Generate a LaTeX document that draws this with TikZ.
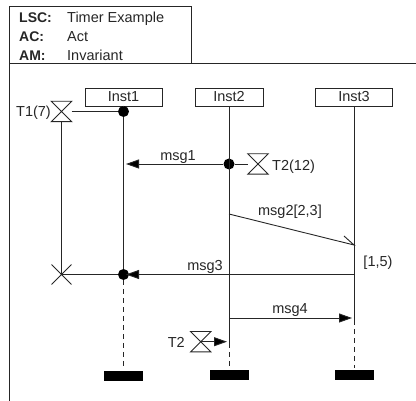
\documentclass[tikz,border=0pt]{standalone}
\usepackage{fontspec}
\setmainfont{Liberation Sans}
\usetikzlibrary{arrows.meta,shapes.misc}
\tikzset{
  x=1pt,y=-1pt,
  every node/.style={font=\fontsize{14.5}{16}\selectfont,text=black!85},
  thinline/.style={line width=0.9pt,draw=black!85},
  instbox/.style={draw=black!85,line width=0.9pt,minimum width=#1,minimum height=18pt,inner sep=0pt},
  lifeline/.style={thinline},
  lifedash/.style={thinline,dash pattern=on 5pt off 4pt},
  msgarrow/.style={thinline,-{Triangle[length=13pt,width=9pt,fill=black]}},
  plainmsg/.style={thinline},
  evdot/.style={circle,fill=black,inner sep=0pt,minimum size=11pt},
  endbar/.style={fill=black,inner sep=0pt,minimum width=39pt,minimum height=10pt},
  timerbox/.style={inner sep=0pt,minimum width=20pt,minimum height=20pt},
  timerend/.style={cross out,draw=black!85,line width=0.9pt,inner sep=0pt,minimum size=19pt},
  hdr/.style={anchor=base west,inner sep=0pt},
  hdrb/.style={anchor=base west,inner sep=0pt,font=\fontsize{14}{16}\selectfont\bfseries},
  lbl/.style={inner sep=0pt},
}
\newcommand{\hourglass}[1]{\draw[thinline] (#1.north west) -- (#1.south east) -- (#1.south west) -- (#1.north east) -- cycle;}
\begin{document}
\begin{tikzpicture}
\useasboundingbox (0,0) rectangle (416,401);
% frame
\coordinate (fbl) at (9,401);
\coordinate (ftl) at (9,6);
\coordinate (ftr) at (191,6);
\coordinate (hl) at (9,63);
\coordinate (hm) at (191,63);
\coordinate (hr) at (416,63);
\draw[thinline] (fbl) -- (ftl) -- (ftr) -- (hm);
\draw[thinline] (hl) -- (hr);
% header text
\node[hdrb] (h1) at (19,23) {LSC:};
\node[hdrb] (h2) at (19,42) {AC:};
\node[hdrb] (h3) at (19,61) {AM:};
\node[hdr] (v1) at (67,23) {Timer Example};
\node[hdr] (v2) at (67,42) {Act};
\node[hdr] (v3) at (67,61) {Invariant};
% instances
\node[instbox=77pt] (i1) at (123.5,97) {\raisebox{-1pt}{Inst1}};
\node[instbox=68pt] (i2) at (229,97) {\raisebox{-1pt}{Inst2}};
\node[instbox=77pt] (i3) at (354,97) {\raisebox{-1pt}{Inst3}};
% ends
\node[endbar] (b1) at (123.5,376) {};
\node[endbar] (b2) at (229,375) {};
\node[endbar] (b3) at (354,375) {};
% events
\node[evdot] (d1) at (123.5,111.5) {};
\node[evdot] (d2) at (229,164) {};
\node[evdot] (d3) at (123.5,274.5) {};
\coordinate (l1e) at (123.5,280);
\coordinate (l1s) at (123.5,368);
\coordinate (l2e) at (229,343);
\coordinate (l2s) at (229,368);
\coordinate (l3e) at (354,320);
\coordinate (l3s) at (354,368);
% lifelines
\draw[lifeline] (i1.south) -- (d1);
\draw[lifeline] (d1) -- (d3);
\draw[lifedash] (l1e) -- (l1s);
\draw[lifeline] (i2.south) -- (l2e);
\draw[lifedash] (l2e) -- (l2s);
\draw[lifeline] (i3.south) -- (l3e);
\draw[lifedash] (l3e) -- (l3s);
% timers
\node[timerbox] (t1) at (61.5,111.5) {};
\hourglass{t1}
\node[timerend] (x1) at (61.5,274.5) {};
\draw[thinline] (t1.east) -- (d1);
\draw[thinline] (t1.south) -- (x1.center);
\node[lbl,anchor=east] (t1l) at (51,113) {T1(7)};
\node[timerbox] (t2) at (258,164) {};
\hourglass{t2}
\draw[thinline] (d2) -- (t2.west);
\node[lbl,anchor=west] (t2l) at (272,166.5) {T2(12)};
\node[timerbox] (t3) at (200.7,341.7) {};
\hourglass{t3}
\coordinate (t3e) at (227,341.7);
\draw[msgarrow] (t3.center) -- (t3e);
\node[lbl,anchor=east] (t3l) at (185,342.5) {T2};
% messages
\coordinate (m1e) at (126,164);
\draw[msgarrow] (d2) -- (m1e);
\node[lbl] (m1l) at (178,157) {msg1};
\coordinate (m2s) at (229,214);
\coordinate (m2e) at (354,245);
\coordinate (m2b) at (344,236);
\draw[plainmsg] (m2s) -- (m2e) -- (m2b);
\node[lbl] (m2l) at (290,212) {msg2[2,3]};
\coordinate (m3s) at (354,274.5);
\coordinate (m3e) at (126,274.5);
\draw[msgarrow] (m3s) -- (m3e);
\draw[thinline] (d3) -- (x1.center);
\node[lbl] (m3l) at (205,267) {msg3};
\coordinate (m4s) at (229,318);
\coordinate (m4e) at (352,318);
\draw[msgarrow] (m4s) -- (m4e);
\node[lbl] (m4l) at (290,310) {msg4};
\node[lbl] (c1) at (378,263) {[1,5)};
\end{tikzpicture}
\end{document}
